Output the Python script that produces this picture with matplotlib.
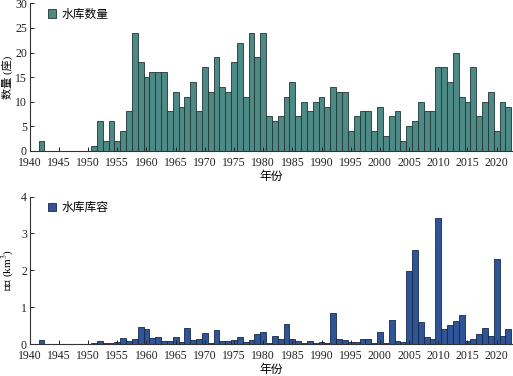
import matplotlib
matplotlib.use("Agg")
import matplotlib.pyplot as plt

plt.rcParams['font.family'] = ['Liberation Serif', 'Noto Sans CJK SC']
plt.rcParams['mathtext.fontset'] = 'stix'

count_years = [1942] + list(range(1951, 2023))
count_values = [2,
    1, 6, 2, 6, 2, 4, 8, 24, 18,            # 1951-1959
    15, 16, 16, 16, 8, 12, 9, 11, 14, 8,     # 1960-1969
    17, 12, 19, 13, 12, 18, 22, 11, 24, 19,  # 1970-1979
    24, 7, 6, 7, 11, 14, 7, 10, 8, 10,       # 1980-1989
    11, 9, 13, 12, 12, 4, 7, 8, 8, 4,        # 1990-1999
    9, 3, 7, 8, 2, 5, 6, 10, 8, 8,           # 2000-2009
    17, 17, 14, 20, 11, 10, 17, 7, 10, 12,   # 2010-2019
    4, 10, 9]                                # 2020-2022

cap_years = [1942] + list(range(1951, 2023))
cap_values = [0.11,
    0.03, 0.08, 0.04, 0.02, 0.05, 0.16, 0.09, 0.14, 0.47,          # 1951-1959
    0.40, 0.17, 0.19, 0.09, 0.07, 0.19, 0.06, 0.43, 0.10, 0.14,    # 1960-1969
    0.30, 0.04, 0.37, 0.07, 0.07, 0.10, 0.19, 0.05, 0.10, 0.26,    # 1970-1979
    0.32, 0.03, 0.22, 0.15, 0.54, 0.14, 0.07, 0.02, 0.08, 0.04,    # 1980-1989
    0.06, 0.02, 0.84, 0.15, 0.12, 0.05, 0.06, 0.13, 0.15, 0.02,    # 1990-1999
    0.32, 0.02, 0.65, 0.09, 0.05, 1.98, 2.54, 0.59, 0.20, 0.15,    # 2000-2009
    3.43, 0.41, 0.53, 0.62, 0.79, 0.08, 0.15, 0.27, 0.44, 0.23,    # 2010-2019
    2.32, 0.23, 0.41]                                              # 2020-2022

xticks = list(range(1940, 2021, 5))

fig = plt.figure(figsize=(5.13, 3.76), dpi=100)
ax1 = fig.add_axes([0.058, 0.599, 0.942, 0.392])
ax2 = fig.add_axes([0.058, 0.085, 0.942, 0.392])

fs = 8.5

def style(ax):
    ax.spines['top'].set_visible(False)
    ax.spines['right'].set_visible(False)
    ax.spines['left'].set_color('#333333')
    ax.spines['bottom'].set_color('#333333')
    ax.spines['left'].set_linewidth(0.8)
    ax.spines['bottom'].set_linewidth(0.8)
    ax.tick_params(direction='in', length=3, width=0.7, labelsize=fs, colors='#222222')
    ax.tick_params(axis='x', pad=4.5)
    ax.tick_params(axis='y', pad=2)
    ax.set_xlim(1940, 2022.8)
    ax.set_xticks(xticks)
    ax.set_xlabel('年份', fontsize=fs, labelpad=1.5)

ax1.bar(count_years, count_values, width=1.0, color='#4e8a85', edgecolor='#1f3535',
        linewidth=0.6, label='水库数量')
style(ax1)
ax1.set_ylim(0, 30)
ax1.set_yticks([0, 5, 10, 15, 20, 25, 30])
ax1.set_ylabel('数量 (座)', fontsize=8)
ax1.yaxis.set_label_coords(-0.034, 0.5)
ax1.legend(loc='upper left', bbox_to_anchor=(0.02, 1.02), frameon=False, fontsize=fs,
           handlelength=0.7, handleheight=0.7, handletextpad=0.5, borderpad=0.2)

ax2.bar(cap_years, cap_values, width=1.0, color='#2f5597', edgecolor='#162849',
        linewidth=0.6, label='水库库容')
style(ax2)
ax2.set_ylim(0, 4)
ax2.set_yticks([0, 1, 2, 3, 4])
ax2.set_ylabel('库容 (km$^3$)', fontsize=8)
ax2.yaxis.set_label_coords(-0.028, 0.5)
ax2.legend(loc='upper left', bbox_to_anchor=(0.02, 1.02), frameon=False, fontsize=fs,
           handlelength=0.7, handleheight=0.7, handletextpad=0.5, borderpad=0.2)

fig.savefig('out.png', dpi=100)
